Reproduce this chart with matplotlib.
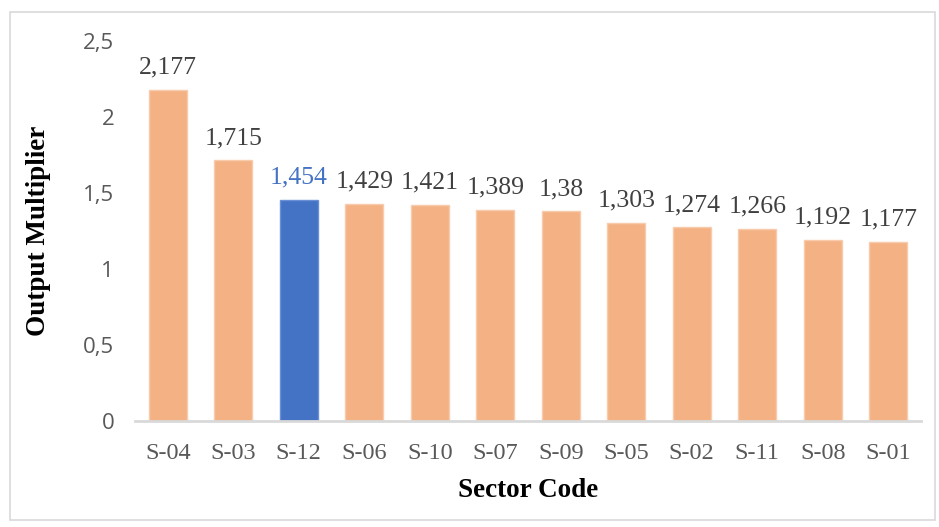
import numpy as np
import matplotlib.pyplot as plt
from matplotlib.patches import Rectangle

sectors = ["S-04", "S-03", "S-12", "S-06", "S-10", "S-07", "S-09", "S-05", "S-02", "S-11", "S-08", "S-01"]
multipliers = [2.177, 1.715, 1.454, 1.429, 1.421, 1.389, 1.38, 1.303, 1.274, 1.266, 1.192, 1.177]
value_labels = ["2,177", "1,715", "1,454", "1,429", "1,421", "1,389", "1,38", "1,303", "1,274", "1,266", "1,192", "1,177"]
highlight = "S-12"
y_ticks = [0, 0.5, 1, 1.5, 2, 2.5]
y_tick_labels = ["0", "0,5", "1", "1,5", "2", "2,5"]

orange = "#F4B183"
blue = "#4472C4"
text_grey = "#404040"

fig = plt.figure(figsize=(9.39, 5.27), dpi=100)
fig.patches.append(Rectangle((10 / 939, 7 / 527), 925 / 939, 508 / 527, transform=fig.transFigure,
                             fill=False, edgecolor="#d9d9d9", linewidth=1.2))
ax = fig.add_axes([135 / 939, 106 / 527, 786 / 939, 380 / 527])

x = np.arange(len(sectors))
colors = [blue if s == highlight else orange for s in sectors]
edges = ["#6a8fd4" if s == highlight else "#F8CBAD" for s in sectors]
ax.bar(x, multipliers, width=0.58, color=colors, edgecolor=edges, linewidth=1, zorder=2)

for xi, v, lab, s in zip(x, multipliers, value_labels, sectors):
    ax.annotate(lab, (xi, v), xytext=(0, 16), textcoords="offset points",
                ha="center", va="center", fontsize=18.5, family="Liberation Serif",
                color=blue if s == highlight else text_grey)

ax.set_xlim(-0.5, len(sectors) - 0.5)
ax.set_ylim(0, 2.5)
ax.set_yticks(y_ticks)
ax.set_yticklabels(y_tick_labels, family="Open Sans", fontsize=16, color="#595959")
ax.set_xticks(x)
ax.set_xticklabels(sectors, family="Liberation Serif", fontsize=17.5, color="#595959")
ax.tick_params(axis="y", length=0, pad=15)
ax.tick_params(axis="x", length=0, pad=16)

for side in ["top", "right", "left"]:
    ax.spines[side].set_visible(False)
ax.spines["bottom"].set_color("#d9d9d9")
ax.spines["bottom"].set_linewidth(2)

ax.set_xlabel("Sector Code", family="Liberation Serif", fontweight="bold", fontsize=19.5, labelpad=10)
ax.set_ylabel("Output Multiplier", family="Liberation Serif", fontweight="bold", fontsize=19.5, labelpad=23)

fig.savefig("out.png", dpi=100)
